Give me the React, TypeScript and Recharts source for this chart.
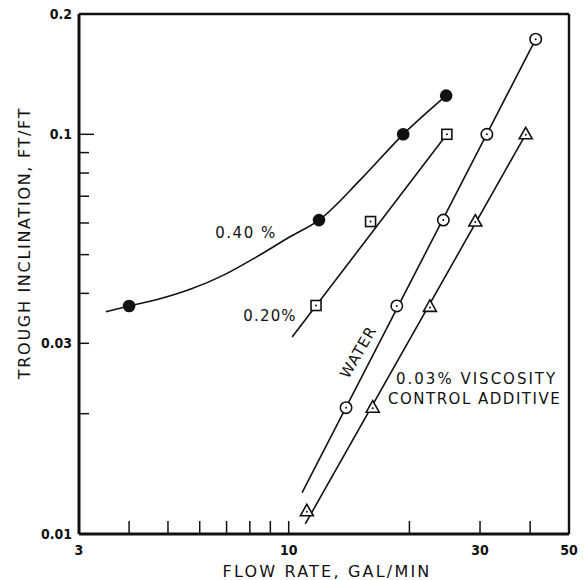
import { ComposedChart, Line, Scatter, XAxis, YAxis, ReferenceLine } from 'recharts';

const xTicks = [3, 4, 5, 6, 7, 8, 9, 10, 20, 30, 40, 50];
const xTickLabels = ['3', '10', '30', '50'];
const yTicks = [0.01, 0.02, 0.03, 0.04, 0.05, 0.06, 0.07, 0.08, 0.09, 0.1, 0.2];
const yTickLabels = ['0.01', '0.03', '0.1', '0.2'];

// 0.40% additive (filled circles) and the curve drawn through them
const pts040 = [
  { x: 4.0, y: 0.0372 },
  { x: 11.9, y: 0.061 },
  { x: 19.3, y: 0.1 },
  { x: 24.7, y: 0.125 },
];
const curve040 = [
  { x: 3.5, y: 0.036 },
  { x: 4.0, y: 0.0372 },
  { x: 4.7, y: 0.0386 },
  { x: 5.7, y: 0.041 },
  { x: 6.9, y: 0.0445 },
  { x: 8.3, y: 0.0493 },
  { x: 10.1, y: 0.0555 },
  { x: 11.9, y: 0.061 },
  { x: 15.1, y: 0.077 },
  { x: 19.3, y: 0.1 },
  { x: 24.7, y: 0.125 },
];

// 0.20% additive (squares)
const pts020 = [
  { x: 11.7, y: 0.0373 },
  { x: 16.0, y: 0.0605 },
  { x: 24.8, y: 0.1 },
];
const line020 = [
  { x: 10.2, y: 0.0311 },
  { x: 24.8, y: 0.1 },
];

// water (open circles)
const ptsWater = [
  { x: 13.9, y: 0.0207 },
  { x: 18.6, y: 0.0372 },
  { x: 24.3, y: 0.061 },
  { x: 31.2, y: 0.1 },
  { x: 41.3, y: 0.173 },
];
const lineWater = [
  { x: 10.8, y: 0.0127 },
  { x: 41.3, y: 0.173 },
];

// 0.03% viscosity control additive (triangles)
const ptsVisc = [
  { x: 11.1, y: 0.0114 },
  { x: 16.2, y: 0.0207 },
  { x: 22.5, y: 0.037 },
  { x: 29.2, y: 0.0605 },
  { x: 39.0, y: 0.1 },
];
const lineVisc = [
  { x: 11.0, y: 0.0106 },
  { x: 39.0, y: 0.1 },
];

const INK = '#111';
const tickFont = "'DejaVu Sans Condensed', 'Liberation Sans Narrow', 'DejaVu Sans', sans-serif";
const labelFont = "'DejaVu Sans', sans-serif";

const fmt = (v: number) => String(v);

function XTick(props: any) {
  const { x, y, payload } = props;
  const v = payload.value;
  const label = fmt(v);
  return (
    <g>
      {v !== 3 && v !== 50 && (
        <line x1={x} y1={y} x2={x} y2={y - 13} stroke={INK} strokeWidth={1.5} />
      )}
      {xTickLabels.includes(label) && (
        <text x={x} y={y + 21} textAnchor="middle" fontSize={14} fontWeight={700} fontFamily={tickFont} fill={INK}>
          {label}
        </text>
      )}
    </g>
  );
}

function YTick(props: any) {
  const { x, y, payload } = props;
  const v = payload.value;
  const label = fmt(v);
  const len = v === 0.1 ? 15 : 10;
  return (
    <g>
      {v !== 0.01 && v !== 0.2 && (
        <line x1={x} y1={y} x2={x + len} y2={y} stroke={INK} strokeWidth={1.5} />
      )}
      {yTickLabels.includes(label) && (
        <text x={x - 7} y={y} dy="0.36em" textAnchor="end" fontSize={14} fontWeight={700} fontFamily={tickFont} fill={INK}>
          {label}
        </text>
      )}
    </g>
  );
}

const FilledDot = (p: any) => <circle cx={p.cx} cy={p.cy} r={6.3} fill={INK} />;

const SquareDot = (p: any) => (
  <g>
    <rect x={p.cx - 5} y={p.cy - 5} width={10} height={10} fill="#fff" stroke={INK} strokeWidth={1.6} />
    <circle cx={p.cx} cy={p.cy} r={1} fill={INK} />
  </g>
);

const RingDot = (p: any) => (
  <g>
    <circle cx={p.cx} cy={p.cy} r={5.7} fill="#fff" stroke={INK} strokeWidth={1.6} />
    <circle cx={p.cx} cy={p.cy} r={1} fill={INK} />
  </g>
);

const TriDot = (p: any) => (
  <g>
    <polygon
      points={`${p.cx},${p.cy - 7} ${p.cx - 6.5},${p.cy + 4.5} ${p.cx + 6.5},${p.cy + 4.5}`}
      fill="#fff"
      stroke={INK}
      strokeWidth={1.6}
      strokeLinejoin="miter"
    />
    <circle cx={p.cx} cy={p.cy + 0.5} r={1} fill={INK} />
  </g>
);

export default function App() {
  return (
    <div style={{ position: 'absolute', left: 0, top: 0, background: '#fff' }}>
      <ComposedChart width={586} height={580} margin={{ top: 14, right: 17, bottom: 0, left: 0 }}>
        <XAxis
          type="number"
          dataKey="x"
          scale="log"
          domain={[3, 50]}
          allowDataOverflow
          ticks={xTicks}
          interval={0}
          tickLine={false}
          tickSize={0}
          tickMargin={0}
          axisLine={{ stroke: INK, strokeWidth: 3 }}
          tick={<XTick />}
          height={46}
        />
        <YAxis
          type="number"
          dataKey="y"
          scale="log"
          domain={[0.01, 0.2]}
          allowDataOverflow
          ticks={yTicks}
          interval={0}
          tickLine={false}
          tickSize={0}
          tickMargin={0}
          axisLine={{ stroke: INK, strokeWidth: 3 }}
          tick={<YTick />}
          width={79}
        />
        <ReferenceLine y={0.2} stroke={INK} strokeWidth={2.6} />
        <ReferenceLine x={50} stroke={INK} strokeWidth={2.4} />

        <Line data={curve040} dataKey="y" type="monotone" stroke={INK} strokeWidth={1.6} dot={false} isAnimationActive={false} />
        <Line data={line020} dataKey="y" type="linear" stroke={INK} strokeWidth={1.6} dot={false} isAnimationActive={false} />
        <Line data={lineWater} dataKey="y" type="linear" stroke={INK} strokeWidth={1.6} dot={false} isAnimationActive={false} />
        <Line data={lineVisc} dataKey="y" type="linear" stroke={INK} strokeWidth={1.6} dot={false} isAnimationActive={false} />

        <Scatter data={pts040} dataKey="y" shape={FilledDot} isAnimationActive={false} />
        <Scatter data={pts020} dataKey="y" shape={SquareDot} isAnimationActive={false} />
        <Scatter data={ptsWater} dataKey="y" shape={RingDot} isAnimationActive={false} />
        <Scatter data={ptsVisc} dataKey="y" shape={TriDot} isAnimationActive={false} />

        <text x={246} y={233} dy="0.36em" textAnchor="middle" fontSize={15} letterSpacing={1.5} fontFamily={labelFont} fill={INK}>
          0.40 %
        </text>
        <text x={270} y={316} dy="0.36em" textAnchor="middle" fontSize={15} letterSpacing={1.2} fontFamily={labelFont} fill={INK}>
          0.20%
        </text>
        <text
          x={358}
          y={352}
          dy="0.36em"
          textAnchor="middle"
          fontSize={15}
          letterSpacing={1}
          fontFamily={labelFont}
          fill={INK}
          transform="rotate(-60 358 352)"
        >
          WATER
        </text>
        <text x={396} y={379} dy="0.36em" fontSize={15} letterSpacing={2} fontFamily={labelFont} fill={INK}>
          0.03% VISCOSITY
        </text>
        <text x={388} y={399} dy="0.36em" fontSize={15} letterSpacing={1.5} fontFamily={labelFont} fill={INK}>
          CONTROL ADDITIVE
        </text>
        <text x={327} y={571} dy="0.36em" textAnchor="middle" fontSize={16} letterSpacing={2.2} fontFamily={labelFont} fill={INK}>
          FLOW RATE, GAL/MIN
        </text>
        <text
          x={24}
          y={243}
          dy="0.36em"
          textAnchor="middle"
          fontSize={16}
          letterSpacing={1.7}
          fontFamily={labelFont}
          fill={INK}
          transform="rotate(-90 24 243)"
        >
          TROUGH INCLINATION, FT/FT
        </text>
      </ComposedChart>
    </div>
  );
}
